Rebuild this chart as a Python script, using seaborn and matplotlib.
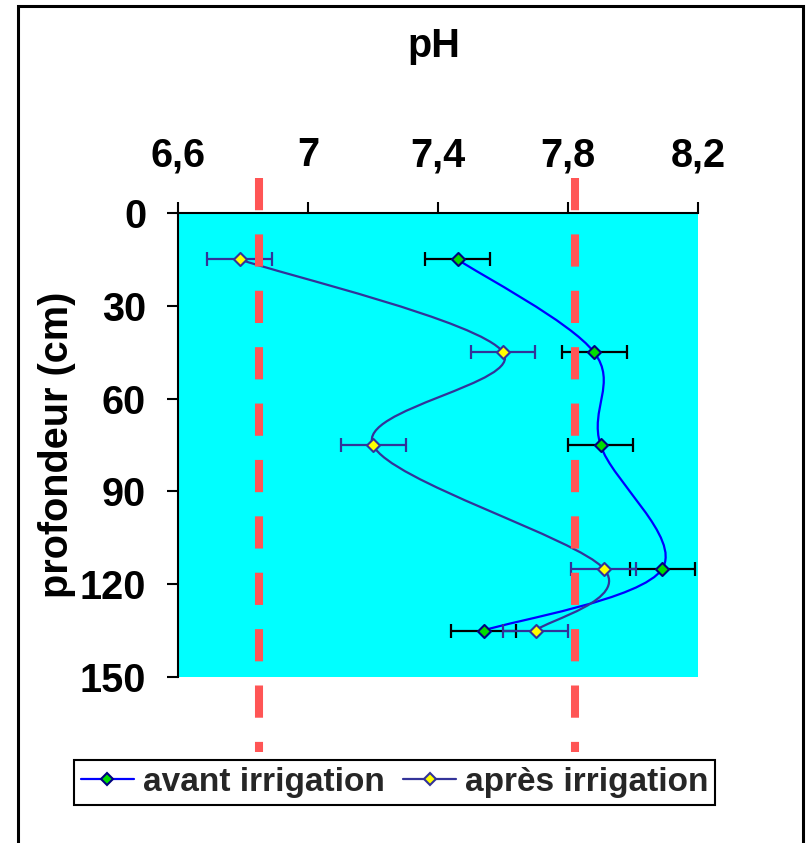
import numpy as np
import pandas as pd
import matplotlib
matplotlib.use("Agg")
import matplotlib.pyplot as plt
import seaborn as sns
from matplotlib.path import Path
from matplotlib.patches import PathPatch, Rectangle
from matplotlib.lines import Line2D

# --- data -------------------------------------------------------------
depth_cm = [15, 45, 75, 115, 135]
ph_avant = [7.46, 7.88, 7.90, 8.09, 7.54]
ph_apres = [6.79, 7.60, 7.20, 7.91, 7.70]
err_avant = [0.10, 0.10, 0.10, 0.10, 0.10]
err_apres = [0.10, 0.10, 0.10, 0.10, 0.10]
ph_limits = [6.85, 7.82]
x_ticks = [6.6, 7.0, 7.4, 7.8, 8.2]
x_tick_labels = ["6,6", "7", "7,4", "7,8", "8,2"]
y_ticks = [0, 30, 60, 90, 120, 150]
series_names = ["avant irrigation", "après irrigation"]

# --- style ------------------------------------------------------------
sns.set_theme(style="white")
plt.rcParams["font.family"] = ["Liberation Sans", "DejaVu Sans"]
plt.rcParams["font.weight"] = "bold"

C_AVANT = "#0000FF"
C_APRES = "#333399"
C_LIMIT = "#FF5555"
C_BG = "#00FFFF"

W, H = 807, 843
fig = plt.figure(figsize=(W / 100, H / 100), dpi=100)
fig.patch.set_facecolor("white")
ax = fig.add_axes([178 / W, 1 - 677 / H, (698 - 178) / W, (677 - 213) / H])
ax.set_facecolor(C_BG)


def smooth_path(xs, ys):
    """Piecewise cubic Bezier through the points (Catmull-Rom tangents)."""
    pts = np.column_stack([xs, ys]).astype(float)
    ext = np.vstack([pts[0], pts, pts[-1]])
    verts = [pts[0]]
    codes = [Path.MOVETO]
    for i in range(len(pts) - 1):
        p0, p1, p2, p3 = ext[i], ext[i + 1], ext[i + 2], ext[i + 3]
        verts += [p1 + (p2 - p0) / 6.0, p2 - (p3 - p1) / 6.0, p2]
        codes += [Path.CURVE4] * 3
    return Path(verts, codes)


# smoothed profile lines
for xs, col in [(ph_avant, C_AVANT), (ph_apres, C_APRES)]:
    ax.add_patch(PathPatch(smooth_path(xs, depth_cm), fill=False,
                           edgecolor=col, lw=1.6, zorder=2))

# horizontal error bars
ax.errorbar(ph_avant, depth_cm, xerr=err_avant, fmt="none", ecolor="black",
            elinewidth=1.6, capsize=4.7, capthick=1.6, zorder=3)
ax.errorbar(ph_apres, depth_cm, xerr=err_apres, fmt="none", ecolor=C_APRES,
            elinewidth=1.6, capsize=4.7, capthick=1.6, zorder=3)

# markers
df = pd.DataFrame({
    "pH": ph_avant + ph_apres,
    "profondeur": depth_cm * 2,
    "série": [series_names[0]] * len(depth_cm) + [series_names[1]] * len(depth_cm),
})
sns.scatterplot(data=df[df["série"] == series_names[0]], x="pH", y="profondeur",
                marker="D", s=44, color="#00DD00", edgecolor="#000080",
                linewidth=1.5, ax=ax, zorder=4, legend=False)
sns.scatterplot(data=df[df["série"] == series_names[1]], x="pH", y="profondeur",
                marker="D", s=44, color="#FFFF00", edgecolor=C_APRES,
                linewidth=1.5, ax=ax, zorder=4, legend=False)

# reference pH limits, running past the plot area
for xv in ph_limits:
    ax.plot([xv, xv], [-11.3, 174.2], color=C_LIMIT, lw=5.8,
            linestyle=(0, (4, 3)), solid_capstyle="butt",
            dash_capstyle="butt", clip_on=False, zorder=5)

# axes
ax.set_xlim(6.6, 8.2)
ax.set_ylim(150, 0)
ax.xaxis.tick_top()
ax.set_xticks(x_ticks)
ax.set_xticklabels(x_tick_labels)
ax.set_yticks(y_ticks)
ax.tick_params(axis="both", which="major", direction="out", length=8,
               width=1.5, color="black", labelsize=28.5, labelcolor="black")
ax.tick_params(axis="x", pad=20, top=True, bottom=False)
ax.tick_params(axis="y", pad=15, left=True)
for lbl in ax.get_xticklabels() + ax.get_yticklabels():
    lbl.set_fontweight("bold")
for side in ["right", "bottom"]:
    ax.spines[side].set_visible(False)
for side in ["top", "left"]:
    ax.spines[side].set_color("black")
    ax.spines[side].set_linewidth(1.5)

ax.xaxis.set_label_position("top")
ax.set_xlabel("pH", fontsize=28.5, fontweight="bold", color="black")
ax.xaxis.set_label_coords((434 - 178) / 520, (677 - 57) / 464)
ax.xaxis.label.set_va("baseline")
ax.set_ylabel("profondeur (cm)", fontsize=28.5, fontweight="bold", color="black")
ax.yaxis.set_label_coords((57 - 178) / 520, 0.5)
ax.yaxis.label.set_va("center")

# legend
handles = [
    Line2D([], [], color=C_AVANT, lw=1.6, marker="D", markersize=6.5,
           markerfacecolor="#00DD00", markeredgecolor="#000080", markeredgewidth=1.5),
    Line2D([], [], color=C_APRES, lw=1.6, marker="D", markersize=6.5,
           markerfacecolor="#FFFF00", markeredgecolor=C_APRES, markeredgewidth=1.5),
]
leg = fig.legend(handles, series_names, loc="center",
                 bbox_to_anchor=(394.5 / W, 1 - 782.5 / H), ncol=2,
                 prop=dict(family=["Liberation Sans"], weight="bold", size=24),
                 frameon=True, fancybox=False, shadow=False,
                 edgecolor="black", framealpha=1, borderpad=0.2,
                 handlelength=1.6, handletextpad=0.26, columnspacing=0.55,
                 borderaxespad=0)
leg.get_frame().set_linewidth(1.5)

# outer chart frame
fig.patches.append(Rectangle((18 / W, -0.1), (803 - 18) / W, 1 - 6 / H + 0.1,
                             transform=fig.transFigure, fill=False,
                             edgecolor="black", lw=2.2, zorder=0))

fig.savefig("out.png", dpi=100)
